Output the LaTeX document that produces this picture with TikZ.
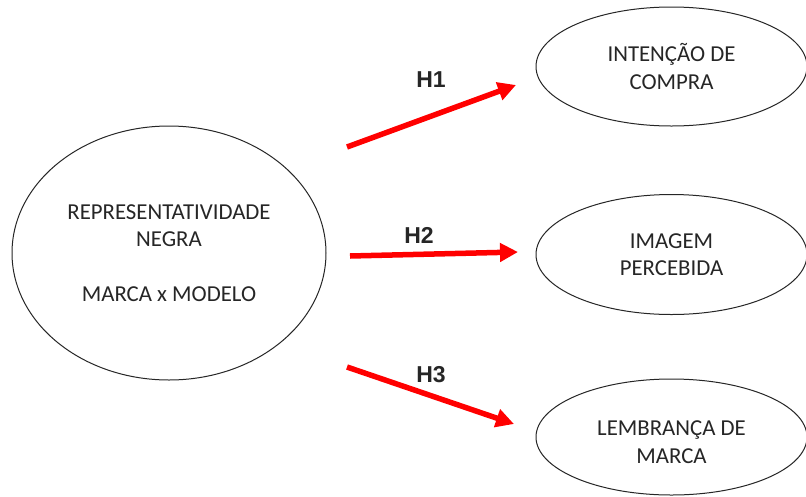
\documentclass[tikz,border=0pt]{standalone}
\usepackage{fontspec}
\setmainfont{Carlito}
\newfontfamily\labfont{Liberation Sans}
\usetikzlibrary{shapes.geometric,arrows.meta}
\begin{document}
\begin{tikzpicture}[x=1pt,y=-1pt,
  bubble/.style={ellipse, draw=black!85, line width=1pt, inner sep=0pt, align=center,
    font=\fontsize{22.8}{27.5}\selectfont, text=black!85},
  rbubble/.style={bubble, minimum width=271pt, minimum height=119pt},
  btext/.style={align=center, inner sep=0pt, font=\fontsize{22.8}{27.5}\selectfont, text=black!85},
  hyp/.style={draw=red, line width=5.5pt, -{Triangle[length=18pt,width=18pt]}},
  hlabel/.style={font=\labfont\bfseries\fontsize{23}{27}\selectfont, text=black!85}]
\useasboundingbox (0,0) rectangle (806,496);
\fill[white] (0,0) rectangle (806,496);
\node[bubble, minimum width=314pt, minimum height=254pt] (L) at (169,253)
  {REPRESENTATIVIDADE\\NEGRA\\[27pt]MARCA x MODELO};
\node[rbubble] (R1) at (671.5,66.5) {INTENÇÃO DE\\COMPRA};
\node[rbubble, minimum height=120pt] (R2) at (671.5,254.5) {IMAGEM\\PERCEBIDA};
\node[rbubble, minimum height=116pt] (R3) at (671.5,437) {};
\node[btext] (R3t) at (671.5,442) {LEMBRANÇA DE\\MARCA};
\coordinate (h1s) at (347,147); \coordinate (h1e) at (516,85);
\coordinate (h2s) at (350,256); \coordinate (h2e) at (518,252);
\coordinate (h3s) at (347,367); \coordinate (h3e) at (514,424);
\draw[hyp] (h1s) -- (h1e);
\draw[hyp] (h2s) -- (h2e);
\draw[hyp] (h3s) -- (h3e);
\node[hlabel] (H1) at (431,80) {H1};
\node[hlabel] (H2) at (419,235) {H2};
\node[hlabel] (H3) at (431,375) {H3};
\end{tikzpicture}
\end{document}
